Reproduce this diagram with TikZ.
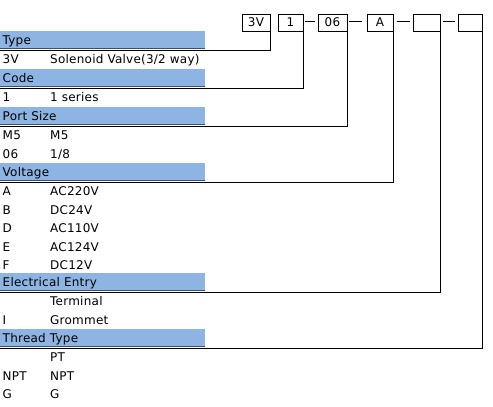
\documentclass[tikz,border=0pt]{standalone}
\usepackage{fontspec}
\setmainfont{DejaVu Sans}[LetterSpace=2]
\definecolor{bandblue}{RGB}{141,180,226}
\definecolor{bandedge}{RGB}{60,80,110}
\begin{document}
\begin{tikzpicture}[x=1pt,y=-1pt,
  font=\fontsize{12}{14}\selectfont,
  codebox/.style={draw, line width=1pt, minimum height=17pt, inner sep=0pt},
  conn/.style={line width=1pt},
  dashln/.style={line width=0.9pt},
  lbl/.style={anchor=base west, inner sep=0pt}]
\useasboundingbox (0,0) rectangle (493,407);
% code boxes
\node[codebox, minimum width=28pt] (b1) at (256,22.5) {3V};
\node[codebox, minimum width=25pt] (b2) at (290.5,22.5) {1};
\node[codebox, minimum width=29pt] (b3) at (332.5,22.5) {06};
\node[codebox, minimum width=26pt] (b4) at (380,22.5) {A};
\node[codebox, minimum width=27pt] (b5) at (426.5,22.5) {};
\node[codebox, minimum width=23.5pt] (b6) at (470.25,22.5) {};
% dashes
\draw[dashln] ([xshift=1.5pt,yshift=1.5pt]b2.east) -- ([xshift=-2.5pt,yshift=1.5pt]b3.west);
\draw[dashln] ([xshift=1.5pt,yshift=1.5pt]b3.east) -- ([xshift=-4.5pt,yshift=1.5pt]b4.west);
\draw[dashln] ([xshift=3pt,yshift=1.5pt]b4.east) -- ([xshift=-3pt,yshift=1.5pt]b5.west);
\draw[dashln] ([xshift=2pt,yshift=1.5pt]b5.east) -- ([xshift=-3pt,yshift=1.5pt]b6.west);
% bands
\foreach \ly in {50,88,126,182,292,348}{
  \fill[bandblue] (0,\ly-19.5) rectangle (205,\ly-1.3);
  \draw[bandedge, line width=0.6pt] (0,\ly-1.6) -- (205,\ly-1.6);
}
% connector ends
\coordinate (c1) at (0,50);
\coordinate (c2) at (0,88);
\coordinate (c3) at (0,126);
\coordinate (c4) at (0,182);
\coordinate (c5) at (0,292);
\coordinate (c6) at (0,348);
\draw[conn] (b1.south east) |- (c1);
\draw[conn] (b2.south east) |- (c2);
\draw[conn] (b3.south east) |- (c3);
\draw[conn] (b4.south east) |- (c4);
\draw[conn] (b5.south east) |- (c5);
\draw[conn] (b6.south east) |- (c6);
% headers
\node[lbl] (hType) at (2.5,44.5) {Type};
\node[lbl] (hCode) at (2.5,82.5) {Code};
\node[lbl] (hPort) at (2.5,120.5) {Port Size};
\node[lbl] (hVolt) at (2.5,176.5) {Voltage};
\node[lbl] (hElec) at (2.5,286.5) {Electrical Entry};
\node[lbl] (hThr) at (2.5,342.5) {Thread Type};
% rows
\node[lbl] (r1a) at (2.5,63.5) {3V};   \node[lbl] (r1b) at (50,63.5) {Solenoid Valve(3/2 way)};
\node[lbl] (r2a) at (2.5,101.5) {1};   \node[lbl] (r2b) at (50,101.5) {1 series};
\node[lbl] (r3a) at (2.5,139.5) {M5};  \node[lbl] (r3b) at (50,139.5) {M5};
\node[lbl] (r4a) at (2.5,158) {06};\node[lbl] (r4b) at (50,158) {1/8};
\node[lbl] (r5a) at (2.5,195.5) {A};   \node[lbl] (r5b) at (50,195.5) {AC220V};
\node[lbl] (r6a) at (2.5,214) {B}; \node[lbl] (r6b) at (50,214) {DC24V};
\node[lbl] (r7a) at (2.5,232.5) {D};   \node[lbl] (r7b) at (50,232.5) {AC110V};
\node[lbl] (r8a) at (2.5,251) {E}; \node[lbl] (r8b) at (50,251) {AC124V};
\node[lbl] (r9a) at (2.5,269.5) {F};   \node[lbl] (r9b) at (50,269.5) {DC12V};
\node[lbl] (r10b) at (50,305.5) {Terminal};
\node[lbl] (r11a) at (2.5,324) {I}; \node[lbl] (r11b) at (50,324) {Grommet};
\node[lbl] (r12b) at (50,361.5) {PT};
\node[lbl] (r13a) at (2.5,380) {NPT}; \node[lbl] (r13b) at (50,380) {NPT};
\node[lbl] (r14a) at (2.5,398.5) {G};   \node[lbl] (r14b) at (50,398.5) {G};
\end{tikzpicture}
\end{document}
